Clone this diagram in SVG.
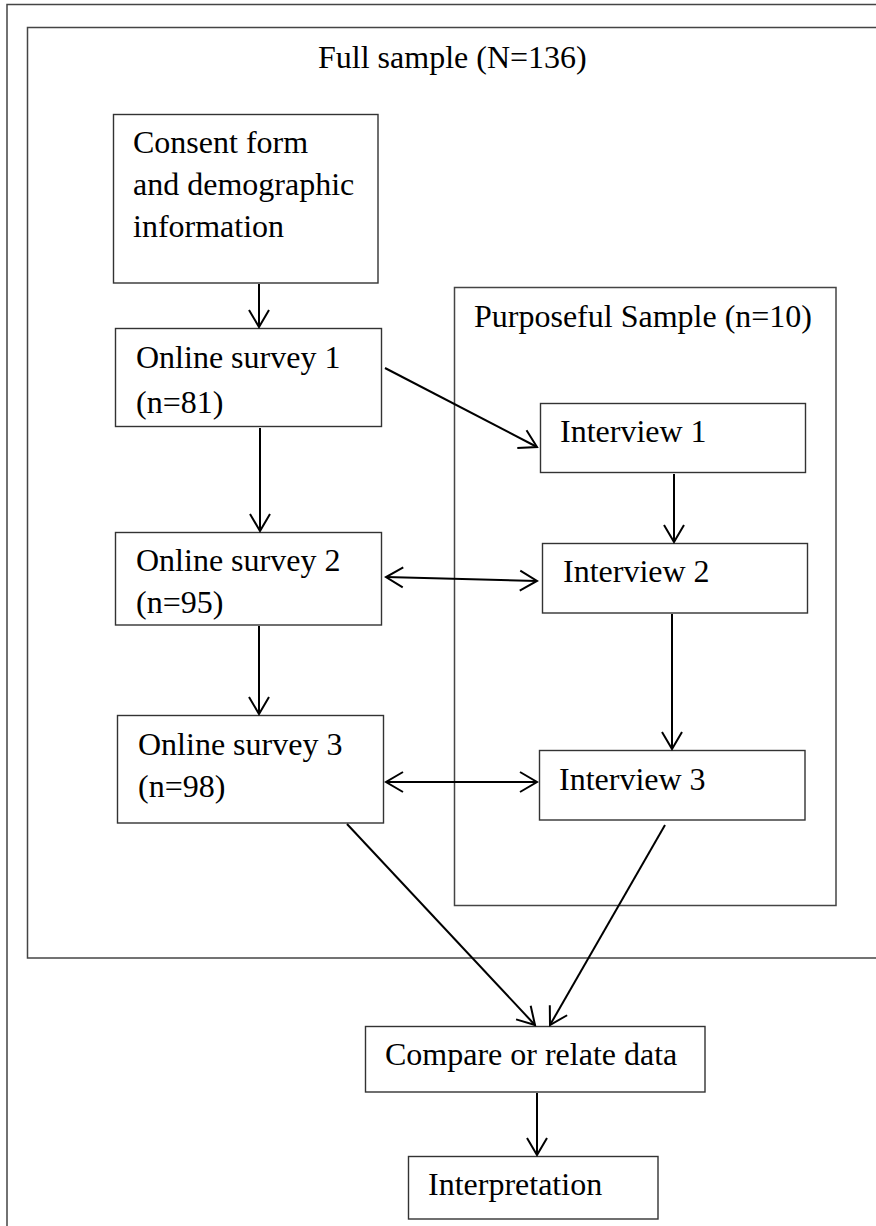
<svg xmlns="http://www.w3.org/2000/svg" width="876" height="1226" viewBox="0 0 876 1226">
<style>
.box{fill:#fff;stroke:#333;stroke-width:1.4}
.frame{fill:none;stroke:#444;stroke-width:1.5}
.t{font-family:"Liberation Serif","Times New Roman",serif;font-size:32px;fill:#000}
.c{fill:none;stroke:#000;stroke-width:2}
</style>
<defs>
<marker id="ah" markerUnits="userSpaceOnUse" markerWidth="24" markerHeight="24" viewBox="-20 -12 24 24" refX="0" refY="0" orient="auto-start-reverse">
<path d="M-17,-10 L0,0 L-17,10" fill="none" stroke="#000" stroke-width="2"/>
</marker>
</defs>
<rect width="876" height="1226" fill="#fff"/>
<g id="outer-frame"><rect class="frame" x="7" y="4.5" width="900" height="1300"/></g>
<g id="full-sample">
<rect class="frame" x="27.5" y="27.5" width="880" height="930.5"/>
<text class="t" x="318" y="68">Full sample (N=136)</text>
</g>
<g id="purposeful-sample">
<rect class="frame" x="454.5" y="287.5" width="381.5" height="618"/>
<text class="t" x="474" y="327">Purposeful Sample (n=10)</text>
</g>
<g id="consent">
<rect class="box" x="113.5" y="114.5" width="264.5" height="168.5"/>
<text class="t" x="133" y="153">Consent form</text>
<text class="t" x="133" y="195">and demographic</text>
<text class="t" x="133" y="237">information</text>
</g>
<g id="survey1">
<rect class="box" x="115.5" y="328.5" width="266" height="98"/>
<text class="t" x="136" y="368">Online survey 1</text>
<text class="t" x="136" y="413">(n=81)</text>
</g>
<g id="survey2">
<rect class="box" x="115.5" y="532.5" width="266" height="92.5"/>
<text class="t" x="136" y="571">Online survey 2</text>
<text class="t" x="136" y="613">(n=95)</text>
</g>
<g id="survey3">
<rect class="box" x="117.5" y="715.5" width="266" height="107.5"/>
<text class="t" x="138" y="755">Online survey 3</text>
<text class="t" x="138" y="797">(n=98)</text>
</g>
<g id="interview1">
<rect class="box" x="540.5" y="403.5" width="265" height="69"/>
<text class="t" x="560" y="442">Interview 1</text>
</g>
<g id="interview2">
<rect class="box" x="542.5" y="543.5" width="265" height="69.5"/>
<text class="t" x="563" y="582">Interview 2</text>
</g>
<g id="interview3">
<rect class="box" x="539.5" y="750.5" width="265.5" height="69.5"/>
<text class="t" x="559" y="790">Interview 3</text>
</g>
<g id="compare">
<rect class="box" x="365.5" y="1026.5" width="339.5" height="65.5"/>
<text class="t" x="385" y="1065">Compare or relate data</text>
</g>
<g id="interpretation">
<rect class="box" x="408.5" y="1156.5" width="249.5" height="62.5"/>
<text class="t" x="428" y="1195">Interpretation</text>
</g>
<g id="connectors">
<line class="c" x1="259" y1="284" x2="259" y2="327" marker-end="url(#ah)"/>
<line class="c" x1="260" y1="428" x2="260" y2="531" marker-end="url(#ah)"/>
<line class="c" x1="259" y1="626" x2="259" y2="714" marker-end="url(#ah)"/>
<line class="c" x1="385" y1="368" x2="537" y2="447" marker-end="url(#ah)"/>
<line class="c" x1="674" y1="474" x2="674" y2="542" marker-end="url(#ah)"/>
<line class="c" x1="386" y1="577" x2="537" y2="581" marker-start="url(#ah)" marker-end="url(#ah)"/>
<line class="c" x1="672" y1="614" x2="672" y2="749" marker-end="url(#ah)"/>
<line class="c" x1="386" y1="782" x2="537" y2="782" marker-start="url(#ah)" marker-end="url(#ah)"/>
<line class="c" x1="347" y1="824" x2="535" y2="1025" marker-end="url(#ah)"/>
<line class="c" x1="665" y1="825" x2="550" y2="1025" marker-end="url(#ah)"/>
<line class="c" x1="537" y1="1093" x2="537" y2="1155" marker-end="url(#ah)"/>
</g>
</svg>
